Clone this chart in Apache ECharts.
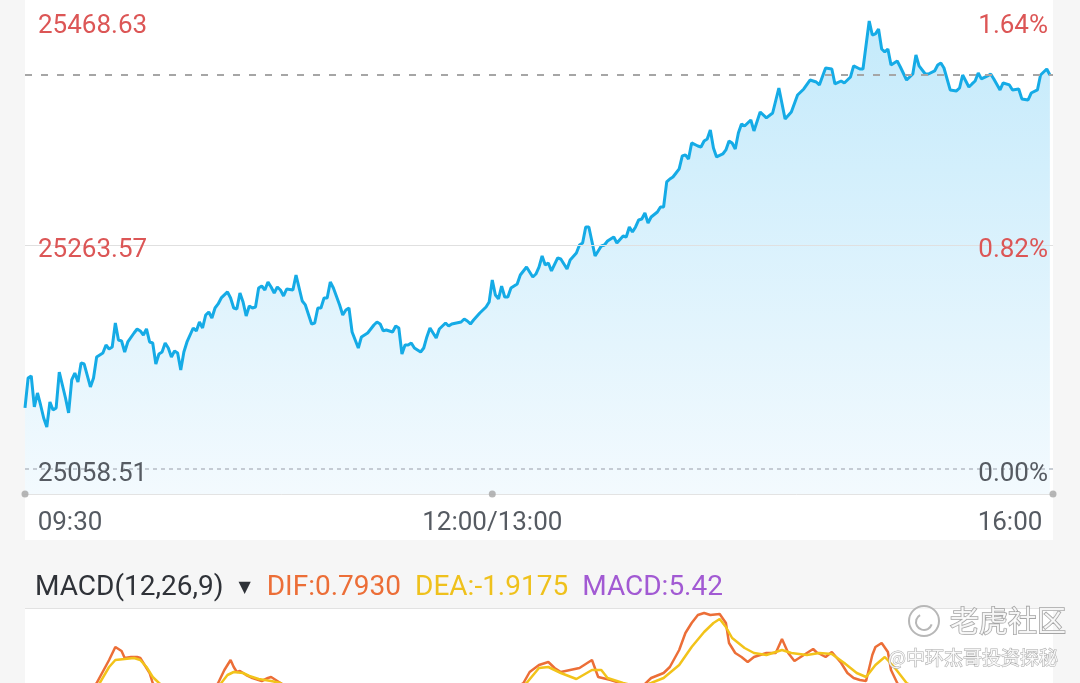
<!DOCTYPE html>
<html><head><meta charset="utf-8">
<script src="https://cdn.jsdelivr.net/npm/echarts@6/dist/echarts.min.js"></script>
<style>html,body{margin:0;padding:0;background:#f6f6f6}#c{width:1080px;height:683px}</style>
</head><body><div id="c"></div>
<script>
// ---- data ----
const prevClose = 25058.51;
const dayHigh = 25468.63;
const yLevels = [25058.51, 25263.57, 25468.63];
const yPctLabels = ['0.00%', '0.82%', '1.64%'];
const tickMinutes = [0, 150, 330];
const tickLabels = ['09:30', '12:00/13:00', '16:00'];

const priceMinutes = [0,1,2,3,4,5,6,7,8,9,10,11,13,14,15,16,17,18,19,21,22,23,25,26,27,28,29,30,31,32,33,35,36,37,38,39,40,41,42,43,44,45,46,47,48,49,50,51,52,54,55,56,57,58,59,60,61,62,63,65,66,67,68,69,70,71,72,73,74,75,76,77,78,79,80,81,82,83,84,86,87,89,90,92,93,94,95,96,97,98,99,101,102,103,104,105,107,108,110,112,113,114,115,116,118,119,120,121,122,123,124,125,127,128,129,130,132,133,135,136,137,140,141,142,143,144,146,148,149,150,151,152,153,154,155,156,158,159,161,163,164,165,166,167,168,169,171,172,174,175,177,178,179,180,181,183,185,186,187,189,190,192,193,194,195,196,197,198,199,200,201,203,204,205,206,207,208,209,210,211,212,213,214,216,217,218,219,220,221,222,224,225,226,227,228,229,230,231,233,234,236,238,240,242,244,246,248,250,252,254,255,257,259,260,262,263,265,266,268,269,271,272,273,274,275,276,277,278,280,281,283,285,286,287,289,290,292,293,294,295,297,299,300,301,303,304,305,306,307,309,310,311,313,314,316,317,319,320,322,323,325,326,328,329];
const prices = [25114.4,25141.8,25143.7,25115.3,25128.1,25117.1,25105.2,25097.0,25119.9,25112.5,25114.4,25147.3,25123.5,25109.8,25140.0,25146.4,25138.2,25155.6,25154.6,25133.6,25141.8,25161.1,25164.7,25172.0,25168.4,25170.2,25192.2,25176.6,25175.7,25165.6,25174.8,25183.0,25186.7,25184.9,25181.2,25186.7,25174.8,25173.9,25154.6,25163.8,25165.6,25173.9,25169.3,25161.1,25166.5,25164.7,25149.1,25165.6,25174.8,25187.6,25184.9,25193.1,25187.6,25199.5,25202.2,25196.8,25205.9,25209.6,25215.1,25220.6,25215.1,25205.9,25205.0,25219.6,25211.4,25198.6,25207.7,25205.9,25206.8,25224.2,25226.0,25222.4,25229.7,25225.1,25219.6,25225.1,25222.4,25216.9,25223.3,25222.4,25236.1,25212.3,25208.7,25191.3,25192.2,25205.9,25205.9,25215.1,25215.1,25229.7,25224.2,25208.7,25199.5,25204.1,25205.9,25183.9,25169.3,25179.4,25183.0,25190.3,25193.1,25191.3,25184.9,25185.8,25183.9,25189.4,25187.6,25163.8,25172.0,25172.0,25173.9,25169.3,25165.6,25169.3,25179.4,25187.6,25178.4,25186.7,25192.2,25189.4,25191.3,25193.1,25195.8,25194.0,25191.3,25194.9,25201.3,25206.8,25211.4,25231.5,25217.8,25214.2,25226.0,25216.0,25216.0,25224.2,25227.9,25236.1,25243.4,25234.3,25237.0,25243.4,25253.5,25245.3,25247.1,25239.8,25251.7,25250.8,25241.6,25249.9,25256.3,25263.6,25265.4,25280.1,25280.1,25253.5,25262.7,25263.6,25267.2,25270.9,25265.4,25271.8,25270.9,25280.1,25275.5,25280.1,25286.5,25287.4,25292.9,25283.7,25289.2,25293.8,25298.4,25298.4,25321.3,25324.0,25325.8,25329.5,25333.2,25345.1,25346.0,25342.3,25357.0,25354.2,25353.3,25358.8,25360.6,25368.9,25352.4,25344.2,25346.9,25350.6,25358.8,25357.0,25351.5,25366.1,25374.4,25372.5,25378.0,25368.0,25385.3,25379.9,25384.4,25407.3,25378.9,25385.3,25400.9,25406.4,25414.6,25412.8,25410.1,25425.6,25424.7,25411.0,25413.7,25411.9,25417.4,25427.5,25424.7,25424.7,25468.6,25455.8,25456.8,25461.3,25443.0,25440.3,25443.0,25428.4,25432.0,25426.5,25414.6,25420.1,25437.5,25427.5,25420.1,25420.1,25422.9,25428.4,25430.2,25425.6,25405.5,25404.6,25407.3,25419.2,25408.2,25411.0,25413.7,25421.1,25415.6,25418.3,25420.1,25415.6,25405.5,25411.9,25410.1,25405.5,25406.4,25397.3,25396.3,25402.7,25405.5,25419.2,25424.7,25419.2];

const difMinutes = [0,10,18,23,27,29,31,32,34,36,37,38,40,41,52,62,64,66,67,68,69,71,73,76,78,79,81,82,90,100,110,120,130,140,150,157,160,162,165,168,170,172,175,178,182,184,188,191,194,196,199,201,205,207,210,212,214,216,218,220,223,225,226,228,230,232,234,236,238,241,243,245,247,249,253,254,257,259,262,264,266,268,270,272,273,275,277,278,280,290,300,310,320,329];
const difValues = [0,-3,2,5.2,9.8,12.4,11.6,10.2,10.4,10.4,10.2,9.2,7.2,5.2,-3,5.2,7.8,9.8,8.4,7.4,7.6,6.8,6.2,5.6,6.2,6.4,5.6,5.2,2,-4,-8,-10,-6,-2,2,4,5.2,7.4,8.8,9.4,8.2,7.4,7.8,8.2,9.8,6.4,5.8,5.2,4.2,4.0,5.0,6.2,7.2,8.4,11.8,15.2,17.2,18.8,19.2,18.8,19.0,17.2,13.2,11.2,10.4,9.4,10.4,10.8,11.2,11.2,14.0,11.2,9.6,10.4,12.0,11.4,10.4,11.4,9.2,7.2,6.2,5.8,5.6,10.8,12.4,13.2,11.4,7.8,5.2,-2,-6,-5,-2,0.793];
const deaMinutes = [0,12,20,24,27,29,32,35,37,39,41,43,55,60,63,65,67,70,72,75,77,79,82,95,110,125,140,155,161,165,168,172,177,182,185,187,192,196,199,201,205,210,214,218,221,223,225,227,231,234,238,243,246,251,255,259,263,267,270,273,276,279,283,295,310,320,329];
const deaValues = [0,-1,2,5.2,8.4,9.8,10.0,10.2,9.8,8.4,6.4,5.2,0,3,5.2,6.8,7.4,7.2,6.6,6.0,5.8,5.6,5.2,0,-5,-7,-3,2,5.2,8.2,8.4,7.2,6.0,7.8,7.8,6.2,5.2,4.6,4.8,5.2,6.2,8.8,12.4,15.4,17.2,18.0,16.4,14.2,12.2,11.2,10.8,11.8,11.2,10.8,11.2,11.0,9.2,7.2,6.4,8.8,10.4,8.4,5.2,1,-3,-2.5,-1.9175];

const macdTitle = 'MACD(12,26,9)';
const legendNames = ['DIF', 'DEA', 'MACD'];
const legendValues = ['0.7930', '-1.9175', '5.42'];

// ---- chart ----
const FONT = 'Roboto, "Noto Sans", sans-serif';
const RED = '#dc5656';
const GRAY = '#565b62';
const yMin = prevClose - (dayHigh - prevClose) * 25 / 448;
const pricePairs = priceMinutes.map((m, i) => [m, prices[i]]);
const lastPrice = prices[prices.length - 1];
const difPairs = difMinutes.map((m, i) => [m, difValues[i]]);
const deaPairs = deaMinutes.map((m, i) => [m, deaValues[i]]);
const levelIndex = v => { let b = 0, d = Infinity; yLevels.forEach((l, i) => { const dd = Math.abs(l - v); if (dd < d) { d = dd; b = i; } }); return b; };
const yRich = {
  red: { fontFamily: FONT, fontSize: 26, color: RED, padding: [10, 0, 0, 0] },
  gray: { fontFamily: FONT, fontSize: 26, color: GRAY, padding: [10, 0, 0, 0] }
};

const chart = echarts.init(document.getElementById('c'), null, { renderer: 'canvas' });
chart.setOption({
  animation: false,
  backgroundColor: '#f6f6f6',
  title: {
    left: 35, top: 571, padding: 0,
    text: '{m|' + macdTitle + '}{t|▼}{dif|' + legendNames[0] + ':' + legendValues[0] + '}{dea|' + legendNames[1] + ':' + legendValues[1] + '}{macd|' + legendNames[2] + ':' + legendValues[2] + '}',
    textStyle: {
      fontWeight: 'normal',
      rich: {
        m: { fontFamily: FONT, fontWeight: 'normal', fontSize: 28, color: '#2f3238', lineHeight: 34 },
        t: { fontFamily: 'DejaVu Sans', fontWeight: 'normal', fontSize: 16, color: '#2f3238', padding: [0, 16, 0, 15], lineHeight: 34 },
        dif: { fontFamily: FONT, fontWeight: 'normal', fontSize: 28, color: '#ec6e37', lineHeight: 34 },
        dea: { fontFamily: FONT, fontWeight: 'normal', fontSize: 28, color: '#efc11c', padding: [0, 0, 0, 14], lineHeight: 34 },
        macd: { fontFamily: FONT, fontWeight: 'normal', fontSize: 28, color: '#a25ad3', padding: [0, 0, 0, 14], lineHeight: 34 }
      }
    }
  },
  graphic: [
    { type: 'rect', z: -10, silent: true, shape: { x: 25, y: 0, width: 1028, height: 540 }, style: { fill: '#ffffff' } },
    { type: 'rect', z: -10, silent: true, shape: { x: 25, y: 609, width: 1028, height: 80 }, style: { fill: '#ffffff' } },
    { type: 'line', z: -9, silent: true, shape: { x1: 25, y1: 608.5, x2: 1053, y2: 608.5 }, style: { stroke: '#e2e2e2', lineWidth: 1 } },
    { type: 'circle', z: 100, silent: true, shape: { cx: 924, cy: 621, r: 15 }, style: { fill: 'rgba(255,255,255,0.6)', stroke: 'rgba(175,175,175,0.9)', lineWidth: 2 } },
    { type: 'arc', z: 100, silent: true, shape: { cx: 924, cy: 622, r: 8, startAngle: 0.3, endAngle: 4.2 }, style: { fill: 'none', stroke: 'rgba(175,175,175,0.9)', lineWidth: 2 } },
    { type: 'text', z: 100, silent: true, x: 950, y: 621, style: { text: '老虎社区', font: '29px "Noto Sans CJK SC"', fill: 'rgba(255,255,255,0.85)', stroke: 'rgba(160,160,160,0.95)', lineWidth: 1.6, verticalAlign: 'middle', align: 'left' } },
    { type: 'text', z: 100, silent: true, x: 1058, y: 658, style: { text: '@中环杰哥投资探秘', font: '19px "Noto Sans CJK SC"', fill: 'rgba(255,255,255,0.85)', stroke: 'rgba(165,165,165,0.95)', lineWidth: 1, verticalAlign: 'middle', align: 'right' } }
  ],
  grid: [
    { left: 25, right: 27, top: 21, height: 473 },
    { left: 25, right: 27, top: 609, bottom: 0 }
  ],
  xAxis: [
    {
      gridIndex: 0, type: 'value', min: 0, max: 330,
      axisLine: { show: true, lineStyle: { color: '#e3e3e3', width: 1 } },
      axisTick: { show: false }, splitLine: { show: false },
      axisLabel: {
        customValues: tickMinutes, margin: 16,
        formatter: v => { const i = tickMinutes.indexOf(Number(v)); const k = i === 0 ? 'first' : (i === tickMinutes.length - 1 ? 'last' : 'mid'); return '{' + k + '|' + tickLabels[i] + '}'; },
        rich: {
          first: { fontFamily: FONT, fontSize: 26, color: GRAY, padding: [0, 0, 0, 90] },
          mid: { fontFamily: FONT, fontSize: 26, color: GRAY },
          last: { fontFamily: FONT, fontSize: 26, color: GRAY, padding: [0, 86, 0, 0] }
        }
      }
    },
    { gridIndex: 1, type: 'value', min: 0, max: 330, show: false }
  ],
  yAxis: [
    {
      gridIndex: 0, type: 'value', min: yMin, max: dayHigh, position: 'left', z: 10,
      axisLine: { show: false }, axisTick: { show: false }, splitLine: { show: false },
      axisLabel: {
        inside: true, margin: 13, customValues: yLevels,
        formatter: v => { const i = levelIndex(Number(v)); return '{' + (i === 0 ? 'gray' : 'red') + '|' + yLevels[i].toFixed(2) + '}'; },
        rich: yRich
      }
    },
    {
      gridIndex: 0, type: 'value', min: yMin, max: dayHigh, position: 'right', z: 10,
      axisLine: { show: false }, axisTick: { show: false }, splitLine: { show: false },
      axisLabel: {
        inside: true, margin: 5, customValues: yLevels,
        formatter: v => { const i = levelIndex(Number(v)); return '{' + (i === 0 ? 'gray' : 'red') + '|' + yPctLabels[i] + '}'; },
        rich: yRich
      }
    },
    { gridIndex: 1, type: 'value', min: 5.2, max: 20, show: false }
  ],
  series: [
    {
      type: 'line', xAxisIndex: 0, yAxisIndex: 0, data: pricePairs,
      showSymbol: false, symbol: 'none',
      lineStyle: { color: '#15abe6', width: 3 },
      areaStyle: {
        opacity: 1,
        color: new echarts.graphic.LinearGradient(0, 0, 0, 1, [
          { offset: 0, color: '#c4eafb' },
          { offset: 1, color: '#f3fafe' }
        ])
      },
      markLine: {
        silent: true, symbol: 'none', label: { show: false },
        data: [
          { yAxis: prevClose, lineStyle: { type: [4, 4], color: '#b5bcc5', width: 1.5 } },
          { yAxis: yLevels[1], lineStyle: { type: 'solid', color: '#e0e0e0', width: 1 } },
          { yAxis: lastPrice, lineStyle: { type: [7, 9], color: '#a6a6a6', width: 2 } }
        ]
      },
      z: 3
    },
    {
      type: 'scatter', xAxisIndex: 0, yAxisIndex: 0, clip: false,
      data: tickMinutes.map(m => [m, yMin]), symbolSize: 7,
      itemStyle: { color: '#a5a5a5' }, z: 6, silent: true
    },
    {
      type: 'line', xAxisIndex: 1, yAxisIndex: 2, data: difPairs, showSymbol: false, symbol: 'none',
      lineStyle: { color: '#ec6e37', width: 2.5 }, z: 3
    },
    {
      type: 'line', xAxisIndex: 1, yAxisIndex: 2, data: deaPairs, showSymbol: false, symbol: 'none',
      lineStyle: { color: '#f2c31a', width: 2.5 }, z: 4
    }
  ]
});
</script></body></html>
